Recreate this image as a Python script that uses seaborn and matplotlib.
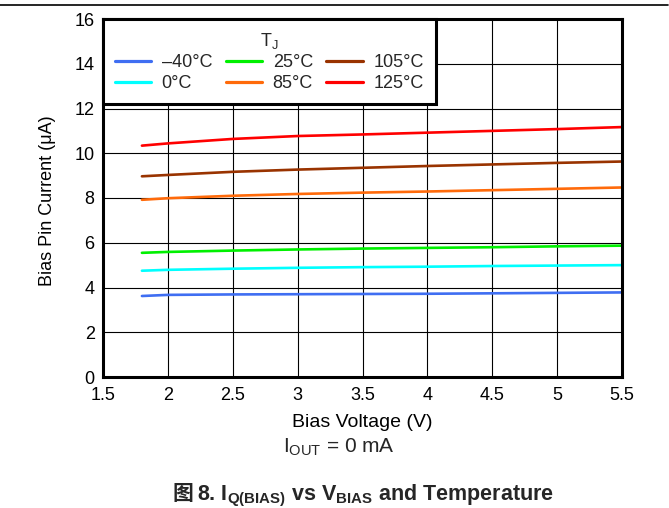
import matplotlib
matplotlib.use("Agg")
import matplotlib.pyplot as plt
import seaborn as sns
import pandas as pd
from matplotlib.lines import Line2D

# ---- data ----
bias_voltage = [1.8, 2.0, 2.5, 3.0, 3.5, 4.0, 4.5, 5.0, 5.5]
temp_labels = ["\u201340\u00b0C", "0\u00b0C", "25\u00b0C", "85\u00b0C", "105\u00b0C", "125\u00b0C"]
i_m40 = [3.62, 3.67, 3.69, 3.70, 3.71, 3.72, 3.74, 3.76, 3.78]
i_0 = [4.75, 4.79, 4.84, 4.88, 4.91, 4.93, 4.96, 4.98, 5.00]
i_25 = [5.55, 5.59, 5.65, 5.70, 5.74, 5.77, 5.80, 5.84, 5.87]
i_85 = [7.92, 7.99, 8.10, 8.18, 8.24, 8.29, 8.35, 8.41, 8.47]
i_105 = [8.97, 9.03, 9.17, 9.27, 9.35, 9.43, 9.50, 9.57, 9.63]
i_125 = [10.34, 10.44, 10.64, 10.77, 10.84, 10.92, 11.00, 11.08, 11.17]
series = [i_m40, i_0, i_25, i_85, i_105, i_125]
colors = ["#3F6EF2", "#00FFFF", "#00F000", "#FF6A0A", "#993300", "#FF0000"]
x_ticks = [1.5, 2, 2.5, 3, 3.5, 4, 4.5, 5, 5.5]
x_tick_labels = ["1.5", "2", "2.5", "3", "3.5", "4", "4.5", "5", "5.5"]
y_ticks = [0, 2, 4, 6, 8, 10, 12, 14, 16]

rows = []
for lab, vals in zip(temp_labels, series):
    for xv, yv in zip(bias_voltage, vals):
        rows.append({"V": xv, "I": yv, "T": lab})
df = pd.DataFrame(rows)

sns.set_theme(style="white")
plt.rcParams["font.family"] = ["Liberation Sans", "Noto Sans CJK SC", "DejaVu Sans"]
plt.rcParams["mathtext.fontset"] = "custom"
plt.rcParams["mathtext.rm"] = "Liberation Sans"
plt.rcParams["mathtext.it"] = "Liberation Sans:italic"
plt.rcParams["mathtext.bf"] = "Liberation Sans:bold"

W, H = 669, 508
fig = plt.figure(figsize=(W / 100, H / 100), dpi=100)
ax_l, ax_r, ax_t, ax_b = 103, 622, 19, 377
ax = fig.add_axes([ax_l / W, 1 - ax_b / H, (ax_r - ax_l) / W, (ax_b - ax_t) / H])

sns.lineplot(data=df, x="V", y="I", hue="T", hue_order=temp_labels,
             palette=dict(zip(temp_labels, colors)), linewidth=1.9, ax=ax,
             legend=False, estimator=None)

ax.set_xlim(1.5, 5.5)
ax.set_ylim(0, 16)
ax.set_xticks(x_ticks)
ax.set_xticklabels(x_tick_labels)
ax.set_yticks(y_ticks)
ax.tick_params(axis="x", labelsize=13, length=0, pad=7, colors="black")
ax.tick_params(axis="y", labelsize=13, length=0, pad=6, colors="black")
ax.grid(True, color="black", linewidth=0.8)
for s in ax.spines.values():
    s.set_color("black")
    s.set_linewidth(2.2)

ax.set_xlabel("Bias Voltage (V)", fontsize=14, color="black")
ax.xaxis.label.set_va("baseline")
ax.xaxis.set_label_coords(0.5, (ax_b - 427) / (ax_b - ax_t))
ax.set_ylabel("Bias Pin Current (\u03bcA)", fontsize=13, color="black")
ax.yaxis.label.set_va("center")
ax.yaxis.set_label_coords((48 - ax_l) / (ax_r - ax_l), (ax_b - 201) / (ax_b - ax_t))

handles = [Line2D([0], [0], color=c, lw=2.3) for c in colors]
leg = ax.legend(handles, temp_labels, ncol=3, loc="upper left",
                bbox_to_anchor=(0, 1), borderaxespad=0, fontsize=13,
                title=r"T$_\mathregular{J}$", title_fontsize=13,
                handlelength=2.0, handletextpad=0.6, columnspacing=0.75,
                labelspacing=0.2, borderpad=0.65, fancybox=False, framealpha=1)
leg.get_frame().set_edgecolor("black")
leg.get_frame().set_linewidth(2.2)

fig.text(339 / W, 1 - 453 / H, r"I$_\mathregular{OUT}$ = 0 mA", ha="center",
         va="baseline", fontsize=15)

fig.text(172 / W, 1 - 500 / H, "\u56fe", family=["Noto Sans CJK SC"],
         fontweight="bold", fontsize=15, ha="left", va="baseline")
fig.text(197 / W, 1 - 500 / H,
         r"8. $\mathbf{I_{Q(BIAS)}}$ vs $\mathbf{V_{BIAS}}$ and Temperature",
         fontweight="bold", fontsize=15.5, ha="left", va="baseline")

fig.add_artist(Line2D([0, 668 / W], [1 - 5 / H, 1 - 5 / H], color="black",
                      lw=1.2, transform=fig.transFigure))

fig.savefig("out.png", dpi=100)
